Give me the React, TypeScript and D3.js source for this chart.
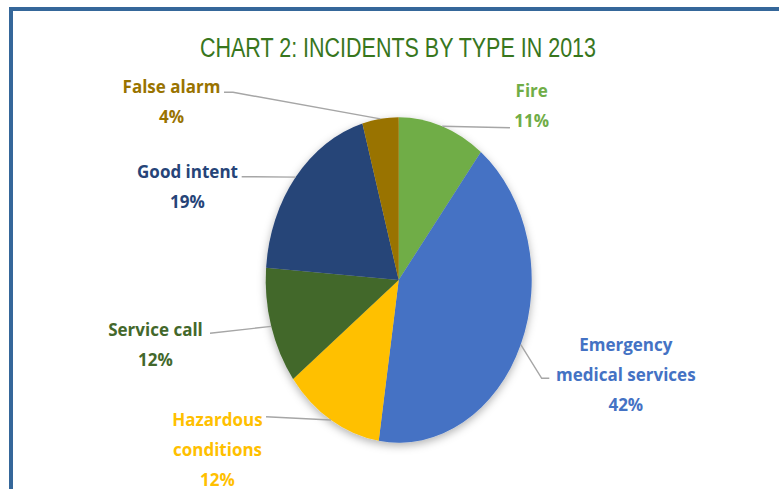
import React from "react";
import * as d3 from "d3";

const categories = ["Fire", "Emergency medical services", "Hazardous conditions", "Service call", "Good intent", "False alarm"];
const values = [10.6, 41.8, 12.2, 11.6, 19.4, 4.4];
const colors = ["#70AD47", "#4472C4", "#FFC000", "#43682B", "#264478", "#997300"];
const labelLines = [["Fire"], ["Emergency", "medical services"], ["Hazardous", "conditions"], ["Service call"], ["Good intent"], ["False alarm"]];
const title = "CHART 2: INCIDENTS  BY TYPE IN 2013";

// layout (not data)
const W = 779, H = 489;
const CX = 398.7, CY = 280, RX = 133, RY = 162.7;
const labelLayout = [
  { x: 531.7, y: 97.3, leader: [[510, 127.7]] },
  { x: 625.8, y: 351, leader: [[541.7, 378.3], [549.3, 378.3]] },
  { x: 217.5, y: 426, leader: [[266, 416.7]] },
  { x: 155.5, y: 336, leader: [[210, 333.3]] },
  { x: 187.5, y: 178.3, leader: [[241.7, 176.7]] },
  { x: 171.5, y: 93, leader: [[233, 92.3], [224, 92.3]] },
];
const LINE_H = 30;

export default function App() {
  const pie = d3.pie<number>().sort(null).value((d) => d).startAngle(0).endAngle(2 * Math.PI);
  const arcs = pie(values);
  const arc = d3.arc<d3.PieArcDatum<number>>().innerRadius(0).outerRadius(RX);
  const line = d3.line();

  return (
    <div style={{ position: "fixed", left: 0, top: 0 }}>
      <svg width={W} height={H} viewBox={`0 0 ${W} ${H}`} style={{ display: "block", background: "#fff" }}>
        <defs>
          <filter id="shadow" x="-20%" y="-20%" width="140%" height="140%">
            <feDropShadow dx="0" dy="3" stdDeviation="4" floodColor="#000" floodOpacity="0.3" />
          </filter>
        </defs>
        <rect x={0} y={0} width={W} height={H} fill="#fff" />
        <rect x={9} y={7} width={W - 9} height={4} fill="#35679A" />
        <rect x={9} y={7} width={4} height={H - 7} fill="#35679A" />
        <text
          x={398}
          y={57}
          textAnchor="middle"
          fill="#38761D"
          fontFamily="'Liberation Sans Narrow', 'Liberation Sans', sans-serif"
          fontSize={27}
          textLength={396}
          lengthAdjust="spacingAndGlyphs"
        >
          {title}
        </text>
        <g filter="url(#shadow)">
          <g transform={`translate(${CX},${CY}) scale(1,${RY / RX})`}>
            {arcs.map((a, i) => (
              <path key={categories[i]} d={arc(a) || ""} fill={colors[i]} />
            ))}
          </g>
        </g>
        {arcs.map((a, i) => {
          const m = (a.startAngle + a.endAngle) / 2;
          const px = CX + RX * Math.sin(m);
          const py = CY - RY * Math.cos(m);
          const pts = [[px, py], ...labelLayout[i].leader] as [number, number][];
          return <path key={"l" + i} d={line(pts) || ""} fill="none" stroke="#A6A6A6" strokeWidth={1.4} />;
        })}
        {arcs.map((a, i) => {
          const L = labelLayout[i];
          const lines = [...labelLines[i], `${Math.round(values[i])}%`];
          return (
            <text
              key={"t" + i}
              textAnchor="middle"
              fill={colors[i]}
              fontFamily="'Open Sans', sans-serif"
              fontWeight={700}
              fontSize={17}
            >
              {lines.map((s, j) => (
                <tspan key={j} x={L.x} y={L.y + j * LINE_H}>
                  {s}
                </tspan>
              ))}
            </text>
          );
        })}
      </svg>
    </div>
  );
}
